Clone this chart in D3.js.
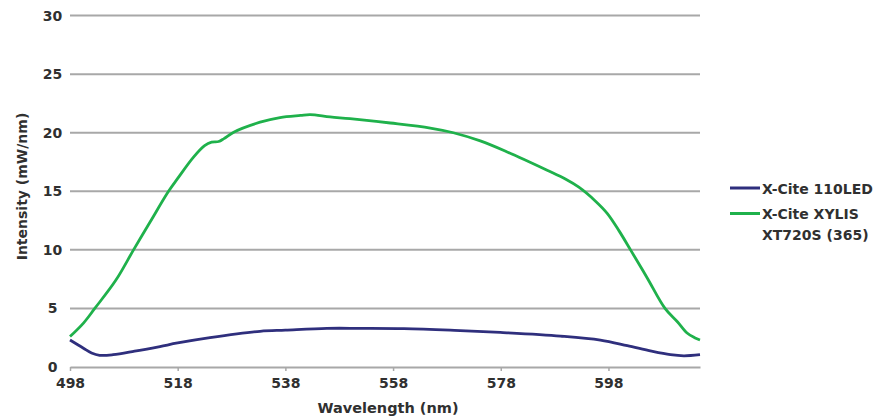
<!DOCTYPE html>
<html>
<head>
<meta charset="utf-8">
<script src="https://cdn.jsdelivr.net/npm/d3@7"></script>
<style>
  body { margin: 0; background: #fff; }
  svg text { font-family: "DejaVu Sans", sans-serif; font-weight: 700; fill: #303030; }
  .grid line { stroke: #a8a8a8; stroke-width: 2; }
  .series { fill: none; stroke-width: 2.8; stroke-linejoin: round; }
</style>
</head>
<body>
<script>
const SERIES = ['X-Cite 110LED', 'X-Cite XYLIS XT720S (365)'];
const COLORS = ['#2f2f7d', '#1fb14b'];

const BLUE_NM  = [498, 500.5, 502, 503.5, 506, 510, 514.7, 518, 524, 533.3, 538, 545.7, 551.9, 560, 568.6, 577.9, 589.1, 596.5, 601.5, 606, 609.5, 612, 615];
const BLUE_VAL = [2.3, 1.6, 1.2, 1.0, 1.05, 1.35, 1.75, 2.05, 2.5, 3.05, 3.15, 3.3, 3.3, 3.28, 3.15, 2.95, 2.64, 2.3, 1.82, 1.35, 1.05, 0.95, 1.05];

const GREEN_NM  = [498, 500.5, 502.6, 506.5, 509.8, 512.9, 516.3, 518, 520.9, 523, 524.3, 525.6, 526.6, 528.4, 533.3, 537, 540.8, 542.6, 546.3, 550, 557.5, 564.9, 569.2, 574.2, 579.2, 586.6, 590, 592.5, 595.5, 597.8, 600, 602.1, 605.2, 608.5, 610.8, 612.6, 614, 615];
const GREEN_VAL = [2.6, 3.75, 5.0, 7.4, 10, 12.4, 15, 16.1, 17.9, 18.9, 19.2, 19.25, 19.5, 20.05, 20.9, 21.3, 21.48, 21.55, 21.35, 21.2, 20.83, 20.4, 20.0, 19.3, 18.36, 16.8, 16.05, 15.35, 14.2, 13.1, 11.6, 10, 7.6, 5.0, 3.86, 2.9, 2.5, 2.3];

const X_TICKS = [498, 518, 538, 558, 578, 598];
const Y_TICKS = [0, 5, 10, 15, 20, 25, 30];

const width = 880, height = 416;
const margin = { top: 15.6, right: 180, bottom: 49, left: 70 };

const xScale = d3.scaleLinear()
                 .domain([498, 615])
                 .range([margin.left, width - margin.right]);
const yScale = d3.scaleLinear()
                 .domain([0, 30])
                 .range([height - margin.bottom, margin.top]);

const svg = d3.select("body")
              .append("svg")
              .attr("width", width)
              .attr("height", height);

// Gridlines
svg.append("g")
  .attr("class", "grid")
  .selectAll("line")
  .data(Y_TICKS.filter(d => d > 0))
  .enter()
  .append("line")
  .attr("x1", xScale.range()[0])
  .attr("x2", xScale.range()[1])
  .attr("y1", d => yScale(d))
  .attr("y2", d => yScale(d));

// Y labels
svg.append("g")
  .selectAll("text")
  .data(Y_TICKS)
  .enter()
  .append("text")
  .attr("x", 52.5)
  .attr("y", d => yScale(d))
  .attr("dy", "0.36em")
  .attr("text-anchor", "middle")
  .attr("font-size", 14)
  .text(d => d);

// X axis
const xAxis = d3.axisBottom(xScale)
                .tickValues(X_TICKS)
                .tickSize(4)
                .tickPadding(7)
                .tickSizeOuter(0);

const xg = svg.append("g")
  .attr("transform", `translate(0,${yScale(0)})`)
  .call(xAxis);
xg.select(".domain").attr("stroke", "#a8a8a8").attr("stroke-width", 2);
xg.selectAll(".tick line").attr("stroke", "#a8a8a8").attr("stroke-width", 1.5);
xg.selectAll(".tick text")
  .attr("font-size", 14)
  .attr("font-family", null)
  .attr("fill", null);

// Axis titles
svg.append("text")
  .attr("x", 388)
  .attr("y", 413)
  .attr("text-anchor", "middle")
  .attr("font-size", 14.5)
  .text("Wavelength (nm)");

svg.append("text")
  .attr("transform", "translate(27,186.5) rotate(-90)")
  .attr("text-anchor", "middle")
  .attr("font-size", 14)
  .text("Intensity (mW/nm)");

// Lines
const line = d3.line()
               .x(d => xScale(d.nm))
               .y(d => yScale(d.val))
               .curve(d3.curveCatmullRom.alpha(0.5));

const seriesData = [
  BLUE_NM.map((nm, i) => ({ nm, val: BLUE_VAL[i] })),
  GREEN_NM.map((nm, i) => ({ nm, val: GREEN_VAL[i] }))
];

svg.append("g")
  .selectAll("path")
  .data(seriesData)
  .enter()
  .append("path")
  .attr("class", "series")
  .attr("stroke", (_, i) => COLORS[i])
  .attr("d", d => line(d));

// Legend
const legend = svg.append("g");
const legendY = [188, 213.5];
const legendLines = [['X-Cite 110LED'], ['X-Cite XYLIS', 'XT720S (365)']];

legendLines.forEach((rows, i) => {
  legend.append("line")
    .attr("x1", 730).attr("x2", 760)
    .attr("y1", legendY[i]).attr("y2", legendY[i])
    .attr("stroke", COLORS[i])
    .attr("stroke-width", 3);
  legend.append("text")
    .attr("x", 762)
    .attr("y", legendY[i] + 5.5)
    .attr("font-size", 14)
    .selectAll("tspan")
    .data(rows)
    .enter()
    .append("tspan")
    .attr("x", 762)
    .attr("dy", (_, j) => j === 0 ? 0 : 21)
    .text(d => d);
});
</script>
</body>
</html>
